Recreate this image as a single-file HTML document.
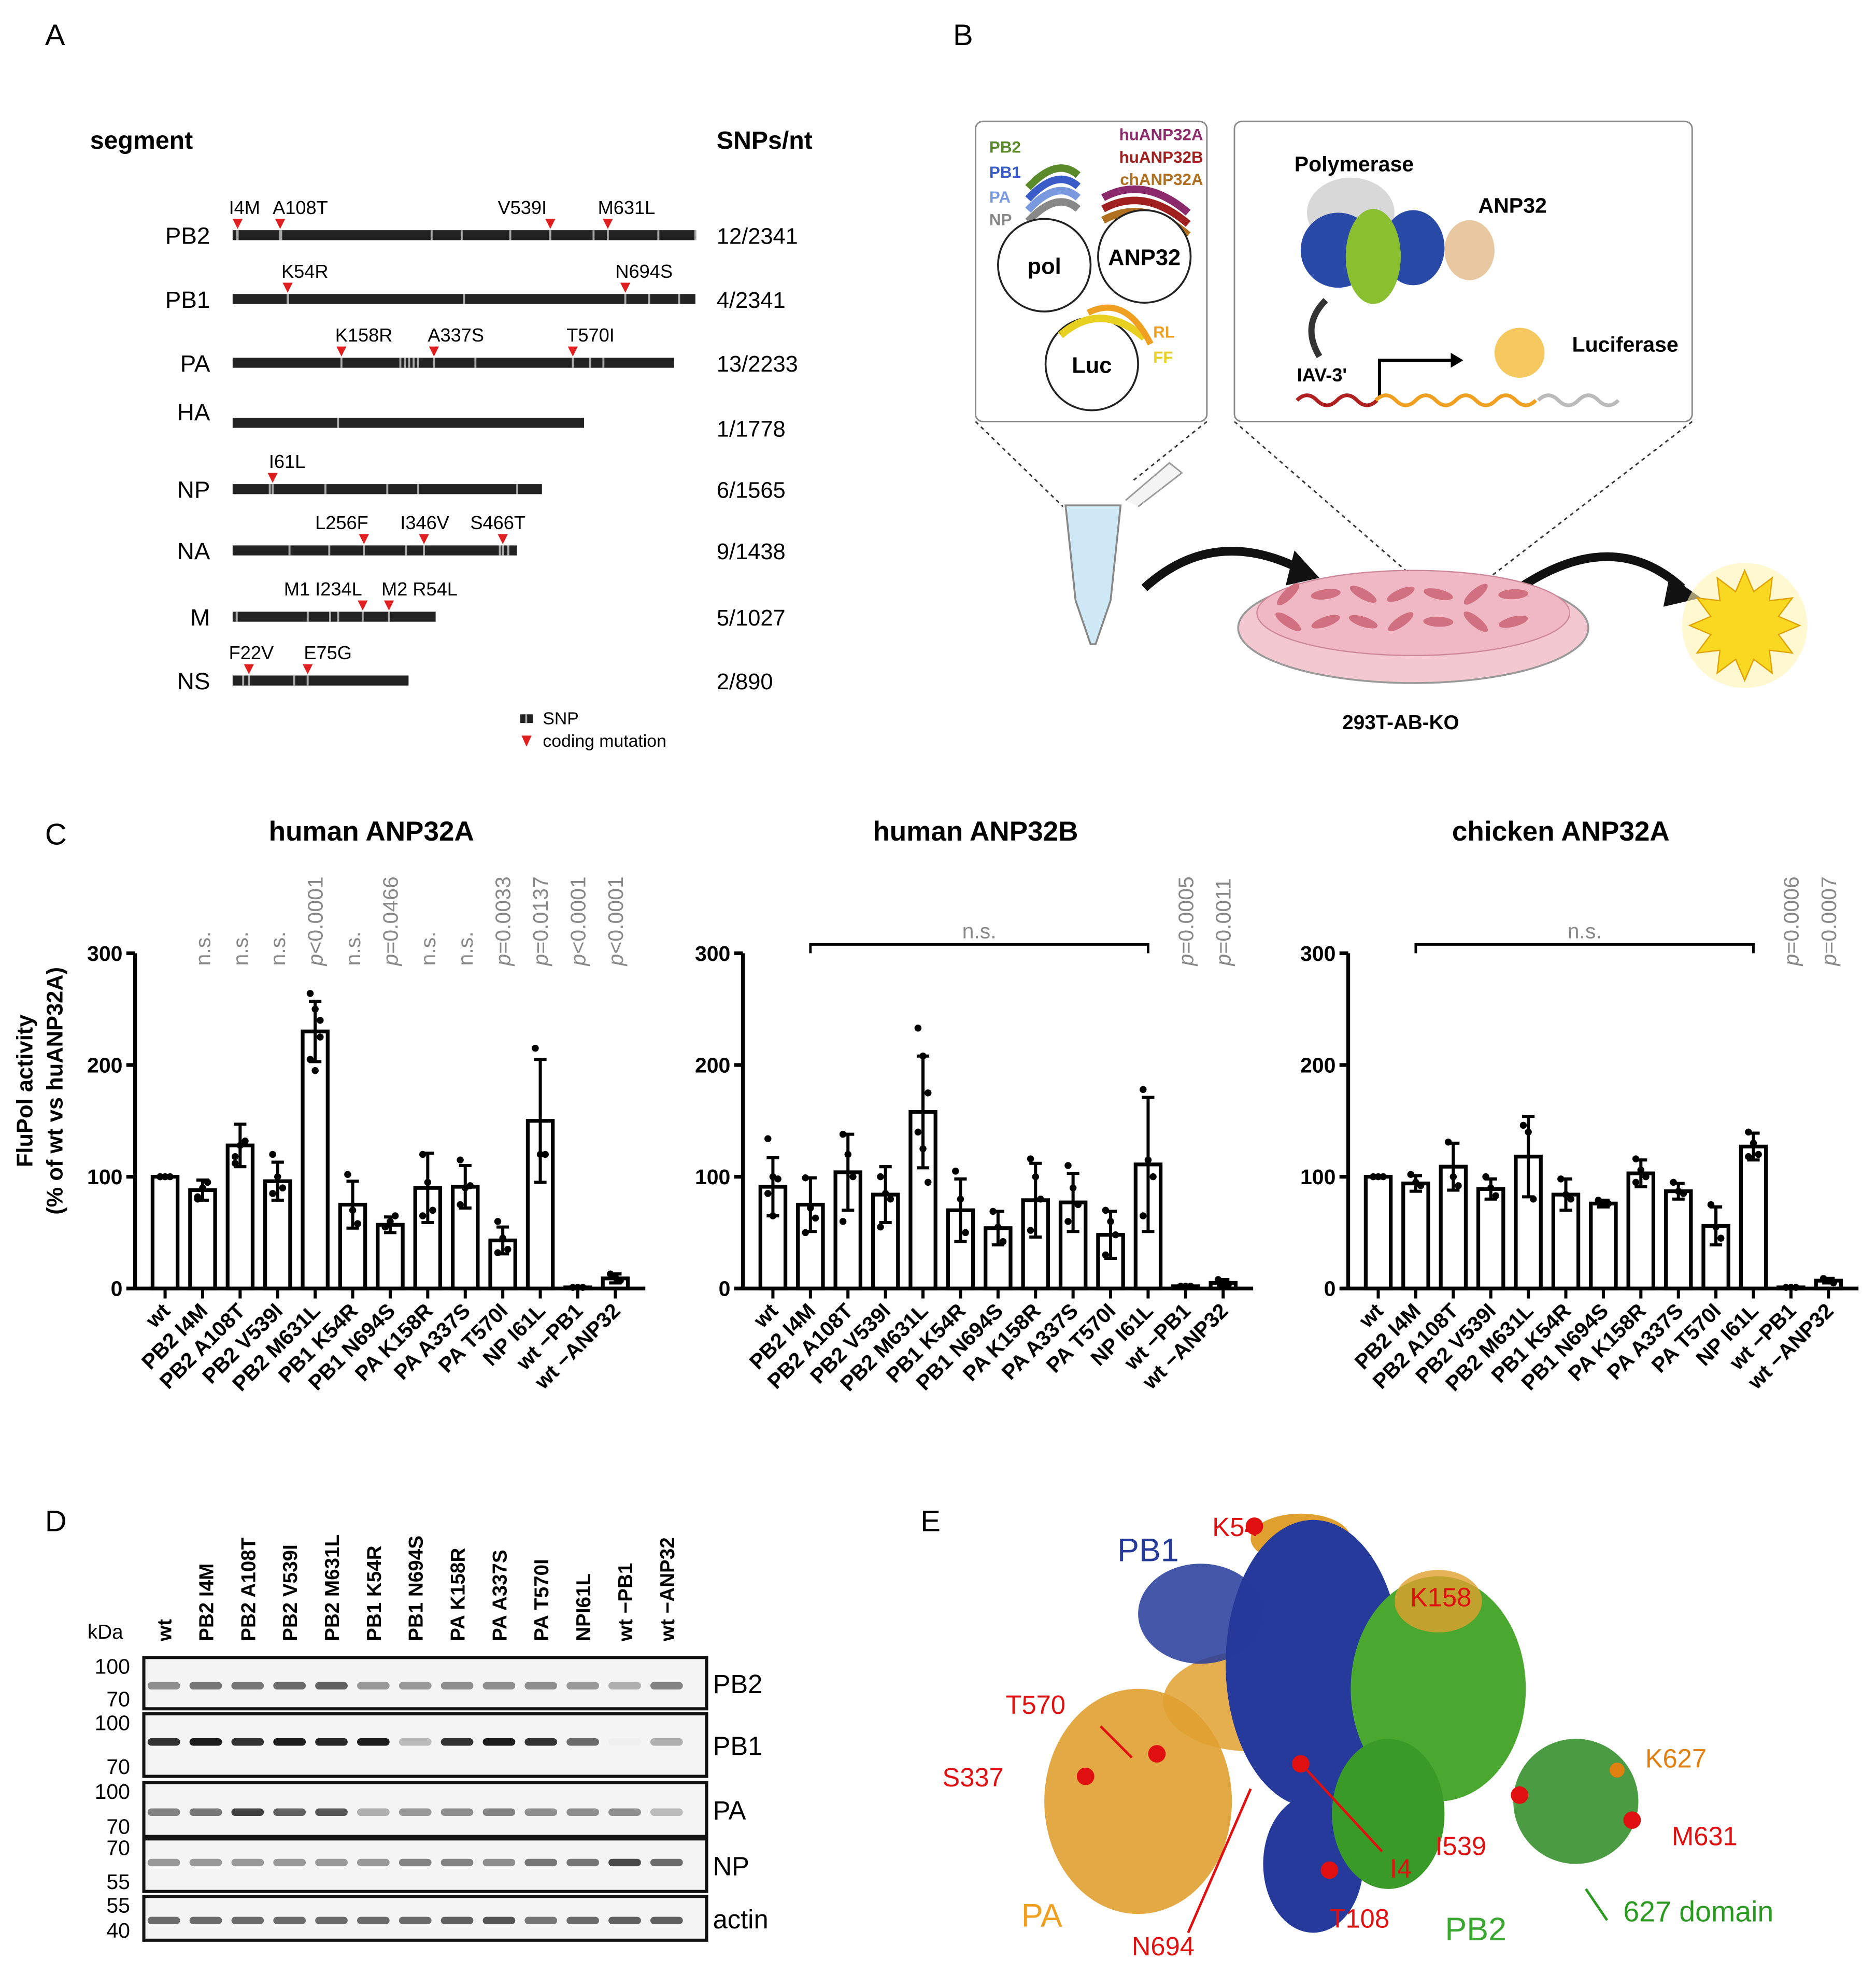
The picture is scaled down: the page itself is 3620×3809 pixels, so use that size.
<!DOCTYPE html>
<html><head><meta charset="utf-8"><style>
html,body{margin:0;padding:0;background:#fff;}
svg{display:block;}
text{font-family:"Liberation Sans",Arial,sans-serif;}
</style></head><body>
<svg id="fig" xmlns="http://www.w3.org/2000/svg" width="3620" height="3809" viewBox="0 0 1500 1578" preserveAspectRatio="none">
<rect x="0" y="0" width="1500" height="1578" fill="#fff"/>
<text x="36" y="36" font-size="24">A</text>
<text x="762" y="36" font-size="24">B</text>
<text x="36" y="675" font-size="24">C</text>
<text x="36" y="1224" font-size="24">D</text>
<text x="736" y="1224" font-size="24">E</text>

<g id="panelA">
<text x="72" y="119" font-size="20" font-weight="bold">segment</text>
<text x="573" y="119" font-size="20" font-weight="bold">SNPs/nt</text>
<rect x="416" y="571" width="10" height="7" fill="#222"/>
<rect x="420" y="571" width="1.5" height="7" fill="#aaa"/>
<text x="434" y="579" font-size="14">SNP</text>
<polygon points="417,588 425,588 421,597" fill="#e02020"/>
<text x="434" y="597" font-size="14">coding mutation</text>
</g>
<g id="panelB"></g>
<g id="panelC"></g>
<g id="panelD"></g>
<g id="panelE"></g>
</svg>
<script>
// ===== Chart data (panel C) =====
const categories = ["wt","PB2 I4M","PB2 A108T","PB2 V539I","PB2 M631L","PB1 K54R","PB1 N694S","PA K158R","PA A337S","PA T570I","NP I61L","wt \u2212PB1","wt \u2212ANP32"];
const yTicks = [0,100,200,300];
const meanA = [100,88,128,96,230,75,57,90,91,43,150,1,9];
const sdA   = [1,9,19,17,27,21,7,31,19,12,55,1,4];
const meanB = [91,75,104,84,158,70,54,79,77,48,111,2,5];
const sdB   = [26,24,34,25,50,28,15,33,26,21,60,1,3];
const meanC = [100,94,109,89,118,84,76,103,87,56,127,1,7];
const sdC   = [1,7,21,9,36,14,3,12,7,17,12,1,2];
const ptsA = [[100,100,100,100],[82,90,95,80],[112,128,132,118],[120,100,90,85],[264,250,225,205,195,240],[102,70,58],[55,60,65,55],[120,95,70,65],[115,90,92,75],[60,45,35,32],[215,120,120],[1,1,1],[13,10,7]];
const ptsB = [[134,100,98,85,65],[99,72,63,50],[138,120,100,60],[100,85,80,55],[233,208,175,140,125,95],[105,80,50],[69,55,42],[116,100,80,52],[110,90,75,60],[70,60,48,30],[178,115,100,65],[2,2,2],[8,5,3]];
const ptsC = [[100,100,100],[102,95,92],[131,100,92],[100,90,83],[146,140,80],[98,84,80],[79,77,76],[116,106,100,95],[95,87,85],[75,55,45],[140,130,120,118],[1,1,1],[9,7,5]];
const pLabelsA = ["","n.s.","n.s.","n.s.","p<0.0001","n.s.","p=0.0466","n.s.","n.s.","p=0.0033","p=0.0137","p<0.0001","p<0.0001"];
const pLabelsB = ["","","","","","","","","","","","p=0.0005","p=0.0011"];
const pLabelsC = ["","","","","","","","","","","","p=0.0006","p=0.0007"];

// ===== Panel A data =====
const segNames = ["PB2","PB1","PA","HA","NP","NA","M","NS"];
const segLengths = [2341,2341,2233,1778,1565,1438,1027,890];
const segSnpText = ["12/2341","4/2341","13/2233","1/1778","6/1565","9/1438","5/1027","2/890"];
const segMutLabels = [["I4M","A108T","V539I","M631L"],["K54R","N694S"],["K158R","A337S","T570I"],[],["I61L"],["L256F","I346V","S466T"],["M1 I234L","M2 R54L"],["F22V","E75G"]];
const segSnpPos = [[0.01,0.105,0.43,0.495,0.6,0.78,0.92,1.0],[0.12,0.5,0.9,0.965],[0.38,0.39,0.40,0.41,0.42,0.55,0.81,0.84],[0.3],[0.12,0.3,0.5,0.6,0.92],[0.2,0.34,0.61,0.94,0.97],[0.02,0.37,0.48,0.52],[0.06,0.35]];
// layout: marker x and label x (display px)
const mutX = [[190,224,440,486],[230,500],[273,347,458],[],[218],[291,339,402],[290,311],[199,246]];
const mutLabelX = [[183,218,398,478],[225,492],[268,342,453],[],[215],[252,320,376],[227,305],[183,243]];

// ===== Panel D data =====
const blotLanes = ["wt","PB2 I4M","PB2 A108T","PB2 V539I","PB2 M631L","PB1 K54R","PB1 N694S","PA K158R","PA A337S","PA T570I","NPI61L","wt \u2212PB1","wt \u2212ANP32"];
const blotRows = ["PB2","PB1","PA","NP","actin"];
const bandPB2 = [0.45,0.55,0.55,0.6,0.65,0.4,0.4,0.45,0.45,0.45,0.4,0.3,0.5];
const bandPB1 = [0.85,0.95,0.85,0.95,0.9,0.95,0.25,0.85,0.95,0.85,0.6,0.02,0.3];
const bandPA  = [0.5,0.55,0.8,0.65,0.7,0.3,0.4,0.45,0.5,0.45,0.45,0.45,0.25];
const bandNP  = [0.4,0.4,0.4,0.4,0.4,0.4,0.5,0.5,0.45,0.55,0.55,0.75,0.6];
const bandActin=[0.6,0.6,0.6,0.6,0.6,0.6,0.6,0.65,0.7,0.55,0.6,0.65,0.65];

const NS="http://www.w3.org/2000/svg";
function mk(parent,tag,attrs,txt){const e=document.createElementNS(NS,tag);for(const k in attrs)e.setAttribute(k,attrs[k]);if(txt!==undefined)e.textContent=txt;parent.appendChild(e);return e;}

// ===== Panel A drawing =====
(function(){
  const g=document.getElementById('panelA');
  const x0=186, pxPerNt=(556-186)/2341;
  const ys=[188,239,290,338,391,440,493,544];
  segNames.forEach((n,i)=>{
    const y=ys[i], w=segLengths[i]*pxPerNt;
    const lab=mk(g,'text',{x:168,y:y+(i===3?-2:7),'font-size':19,'text-anchor':'end'},n);
    
    
    const bar=mk(g,'rect',{x:x0,y:y-4,width:w,height:8,fill:'#222'});
    
    
    segSnpPos[i].forEach(f=>{const s=mk(g,'rect',{x:x0+f*w-0.8,y:y-4,width:1.6,height:8,fill:'#aaa'});
      });
    mutX[i].forEach((mx,j)=>{
      mk(g,'rect',{x:mx-0.8,y:y-4,width:1.6,height:8,fill:'#aaa'});
      const t=mk(g,'polygon',{points:`${mx-4},${y-13} ${mx+4},${y-13} ${mx},${y-5}`,fill:'#e02020'});
      
      const lt=mk(g,'text',{x:mutLabelX[i][j],y:y-17,'font-size':15},segMutLabels[i][j]);
      
    });
    const st=mk(g,'text',{x:573,y:y+(i===3?6:2)+5,'font-size':18},segSnpText[i]);
    
  });
})();

// ===== Panel C drawing =====
function drawChart(ax, title, titleX, means, sds, pts, plabels, bracket){
  const g=document.getElementById('panelC');
  const y0=1030, y300=762;
  const yS=v=>y0-(v/300)*(y0-y300);
  const xS=i=>ax+24+i*30;
  const t=mk(g,'text',{x:titleX,y:672,'font-size':22,'font-weight':'bold','text-anchor':'middle'},title);
  
  const ya=mk(g,'line',{x1:ax,y1:yS(300),x2:ax,y2:y0,stroke:'#000','stroke-width':3});
  
  const xa=mk(g,'line',{x1:ax,y1:y0,x2:ax+408,y2:y0,stroke:'#000','stroke-width':3});
  
  yTicks.forEach(v=>{
    mk(g,'line',{x1:ax-7,y1:yS(v),x2:ax,y2:yS(v),stroke:'#000','stroke-width':3});
    const tl=mk(g,'text',{x:ax-10,y:yS(v)+6,'font-size':17,'font-weight':'bold','text-anchor':'end'},String(v));
    
  });
  categories.forEach((c,i)=>{
    const cx=xS(i), m=means[i], s=sds[i];
    const bw=20;
    const b=mk(g,'rect',{x:cx-bw/2,y:yS(m),width:bw,height:y0-yS(m),fill:'#fff',stroke:'#000','stroke-width':3});
    
    const e=mk(g,'line',{x1:cx,y1:yS(m+s),x2:cx,y2:yS(Math.max(0,m-s)),stroke:'#000','stroke-width':2.5});
    
    mk(g,'line',{x1:cx-5,y1:yS(m+s),x2:cx+5,y2:yS(m+s),stroke:'#000','stroke-width':2.5});
    mk(g,'line',{x1:cx-5,y1:yS(Math.max(0,m-s)),x2:cx+5,y2:yS(Math.max(0,m-s)),stroke:'#000','stroke-width':2.5});
    pts[i].forEach((p,k)=>{const d=mk(g,'circle',{cx:cx+((k%3)-1)*4,cy:yS(p),r:2.8,fill:'#000'});
      });
    mk(g,'line',{x1:cx,y1:y0,x2:cx,y2:y0+8,stroke:'#000','stroke-width':2.5});
    const xl=mk(g,'text',{x:cx+5,y:y0+19,'font-size':17,'font-weight':'bold','text-anchor':'end',transform:`rotate(-45 ${cx+5} ${y0+19})`},c);
    
    if(plabels[i]){
      const pl=mk(g,'text',{x:cx+6,y:772,'font-size':17,fill:'#888',transform:`rotate(-90 ${cx+6} 772)`},'');
      
      if(plabels[i][0]==='p'){mk(pl,'tspan',{'font-style':'italic'},'p');mk(pl,'tspan',{},plabels[i].slice(1));}
      else pl.textContent=plabels[i];
    }
  });
  if(bracket){
    const bx1=xS(1), bx2=xS(10);
    const br=mk(g,'path',{d:`M${bx1},762 L${bx1},755 L${bx2},755 L${bx2},762`,fill:'none',stroke:'#000','stroke-width':2});
    
    const nt=mk(g,'text',{x:(bx1+bx2)/2,y:750,'font-size':17,fill:'#888','text-anchor':'middle'},'n.s.');
    
  }
}
drawChart(108,'human ANP32A',297,meanA,sdA,ptsA,pLabelsA,false);
drawChart(594,'human ANP32B',780,meanB,sdB,ptsB,pLabelsB,true);
drawChart(1078,'chicken ANP32A',1248,meanC,sdC,ptsC,pLabelsC,true);
(function(){
  const g=document.getElementById('panelC');
  const a=mk(g,'text',{x:26,y:872,'font-size':18,'font-weight':'bold','text-anchor':'middle',transform:'rotate(-90 26 872)'},'FluPol activity');
  
  const b=mk(g,'text',{x:50,y:872,'font-size':18,'font-weight':'bold','text-anchor':'middle',transform:'rotate(-90 50 872)'},'(% of wt vs huANP32A)');
  
})();

// ===== Panel B drawing =====
(function(){
  const g=document.getElementById('panelB');
  const box1=mk(g,'rect',{x:780,y:97,width:185,height:240,rx:6,fill:'#fff',stroke:'#888','stroke-width':1.2});
  
  const box2=mk(g,'rect',{x:987,y:97,width:366,height:240,rx:6,fill:'#fff',stroke:'#888','stroke-width':1.2});
  
  [['PB2',791,122,'#5a8a2a'],['PB1',791,142,'#3a5cc8'],['PA',791,162,'#7a9ae0'],['NP',791,180,'#888']].forEach(a=>{
    const t=mk(g,'text',{x:a[1],y:a[2],'font-size':13,'font-weight':'bold',fill:a[3]},a[0]);
    });
  [['huANP32A',962,112,'#8a2a6a'],['huANP32B',962,130,'#a02020'],['chANP32A',962,148,'#b07020']].forEach(a=>{
    const t=mk(g,'text',{x:a[1],y:a[2],'font-size':13,'font-weight':'bold',fill:a[3],'text-anchor':'end'},a[0]);
    });
  [['#5a8a2a',0],['#3a5cc8',9],['#7a9ae0',18],['#888',27]].forEach(a=>{
    mk(g,'path',{d:`M822,${150+a[1]} Q845,${125+a[1]} 862,${140+a[1]}`,fill:'none',stroke:a[0],'stroke-width':6});});
  [['#8a2a6a',0],['#a02020',9],['#b07020',18]].forEach(a=>{
    mk(g,'path',{d:`M882,${158+a[1]} Q915,${140+a[1]} 950,${170+a[1]}`,fill:'none',stroke:a[0],'stroke-width':6});});
  [[835,217,'pol'],[915,210,'ANP32'],[873,296,'Luc']].forEach(a=>{
    const c=mk(g,'circle',{cx:a[0],cy:a[1]-5,r:37,fill:'#fff',stroke:'#222','stroke-width':1.5});
    
    const t=mk(g,'text',{x:a[0],y:a[1]+2,'font-size':18,'font-weight':'bold','text-anchor':'middle'},a[2]);
    });
  mk(g,'path',{d:'M848,268 Q880,240 915,270',fill:'none',stroke:'#e8d020','stroke-width':6});
  mk(g,'path',{d:'M870,250 Q900,235 920,275',fill:'none',stroke:'#f0a020','stroke-width':5});
  mk(g,'text',{x:922,y:270,'font-size':13,'font-weight':'bold',fill:'#f0a020'},'RL');
  mk(g,'text',{x:922,y:290,'font-size':13,'font-weight':'bold',fill:'#e8d020'},'FF');
  const pt=mk(g,'text',{x:1035,y:137,'font-size':17,'font-weight':'bold'},'Polymerase');
  
  const at=mk(g,'text',{x:1182,y:170,'font-size':17,'font-weight':'bold'},'ANP32');
  
  mk(g,'ellipse',{cx:1080,cy:170,rx:35,ry:28,fill:'#d8d8d8'});
  mk(g,'ellipse',{cx:1070,cy:200,rx:30,ry:30,fill:'#2a4aa8'});
  mk(g,'ellipse',{cx:1130,cy:198,rx:25,ry:30,fill:'#2a4aa8'});
  mk(g,'ellipse',{cx:1098,cy:205,rx:22,ry:38,fill:'#8ac030'});
  mk(g,'ellipse',{cx:1175,cy:200,rx:20,ry:24,fill:'#e8c8a0'});
  mk(g,'path',{d:'M1060,240 Q1040,260 1055,285',fill:'none',stroke:'#333','stroke-width':5});
  const lt=mk(g,'text',{x:1257,y:281,'font-size':17,'font-weight':'bold'},'Luciferase');
  
  mk(g,'circle',{cx:1215,cy:282,r:20,fill:'#f5c860'});
  mk(g,'text',{x:1037,y:305,'font-size':15,'font-weight':'bold'},"IAV-3'");
  mk(g,'path',{d:'M1103,318 L1103,288 L1160,288',fill:'none',stroke:'#000','stroke-width':2.5});
  mk(g,'polygon',{points:'1160,282 1170,288 1160,294',fill:'#000'});
  mk(g,'path',{d:'M1037,320 q8,-8 16,0 t16,0 t16,0 t16,0',fill:'none',stroke:'#b02020','stroke-width':3});
  mk(g,'path',{d:'M1100,320 q8,-8 16,0 t16,0 t16,0 t16,0 t16,0 t16,0 t16,0 t16,0',fill:'none',stroke:'#f0a020','stroke-width':3});
  mk(g,'path',{d:'M1230,320 q8,-8 16,0 t16,0 t16,0 t16,0',fill:'none',stroke:'#bbb','stroke-width':3});
  mk(g,'path',{d:'M780,337 L850,405 M965,337 L905,385 M987,337 L1140,470 M1353,337 L1180,470',fill:'none',stroke:'#333','stroke-width':1.2,'stroke-dasharray':'3,3'});
  const tube=mk(g,'path',{d:'M852,404 L896,404 L888,480 L876,515 L872,515 L860,480 Z',fill:'#cfe8f5',stroke:'#888','stroke-width':1.5});
  
  mk(g,'path',{d:'M900,400 L935,370 L945,378 L910,405',fill:'#f4f4f4',stroke:'#999','stroke-width':1.2});
  mk(g,'path',{d:'M915,470 Q970,420 1040,455',fill:'none',stroke:'#111','stroke-width':7});
  mk(g,'polygon',{points:'1035,440 1055,462 1028,468',fill:'#111'});
  mk(g,'path',{d:'M1215,470 Q1290,420 1345,470',fill:'none',stroke:'#111','stroke-width':7});
  mk(g,'polygon',{points:'1335,460 1360,478 1330,485',fill:'#111'});
  const dish=mk(g,'ellipse',{cx:1130,cy:502,rx:140,ry:44,fill:'#f4c8d0',stroke:'#999','stroke-width':1.5});
  
  mk(g,'ellipse',{cx:1130,cy:490,rx:125,ry:34,fill:'#f0b8c4',stroke:'#c89','stroke-width':1});
  for(let i=0;i<14;i++){mk(g,'ellipse',{cx:1030+(i%7)*30,cy:475+Math.floor(i/7)*22,rx:12,ry:4,fill:'#d07080',transform:`rotate(${(i*37)%90-45} ${1030+(i%7)*30} ${475+Math.floor(i/7)*22})`});}
  const dl=mk(g,'text',{x:1120,y:583,'font-size':16,'font-weight':'bold','text-anchor':'middle'},'293T-AB-KO');
  
  let sp='';for(let i=0;i<24;i++){const r=i%2?28:44;const a=i*Math.PI/12;sp+=`${1395+r*Math.cos(a)},${500+r*Math.sin(a)} `;}
  mk(g,'circle',{cx:1395,cy:500,r:50,fill:'#fff4b0',opacity:0.6});
  const star=mk(g,'polygon',{points:sp,fill:'#f8d820',stroke:'#e0a000','stroke-width':1});
  
})();

// ===== Panel D drawing =====
(function(){
  const g=document.getElementById('panelD');
  const lx=i=>131+i*33.5;
  blotLanes.forEach((l,i)=>{
    const t=mk(g,'text',{x:lx(i)+6,y:1312,'font-size':16,'font-weight':'bold',transform:`rotate(-90 ${lx(i)+6} 1312)`},l);
    
  });
  mk(g,'text',{x:70,y:1310,'font-size':16},'kDa');
  const rows=[[1325,1366,bandPB2,0.55,['100','70']],[1370,1420,bandPB1,0.45,['100','70']],[1425,1468,bandPA,0.55,['100','70']],[1470,1512,bandNP,0.45,['70','55']],[1516,1551,bandActin,0.55,['55','40']]];
  rows.forEach((r,ri)=>{
    const [yt,yb,vals,fr,mw]=r;
    const box=mk(g,'rect',{x:115,y:yt,width:450,height:yb-yt,fill:'#f4f4f4',stroke:'#111','stroke-width':2.5});
    
    const by=yt+(yb-yt)*fr;
    vals.forEach((v,i)=>{const b=mk(g,'rect',{x:lx(i)-13,y:by-3,width:26,height:6,rx:3,fill:'#111',opacity:v});
      });
    const rl=mk(g,'text',{x:570,y:(yt+yb)/2+8,'font-size':21},blotRows[ri]);
    
    mk(g,'text',{x:104,y:yt+13,'font-size':17,'text-anchor':'end'},mw[0]);
    mk(g,'text',{x:104,y:yb-2,'font-size':17,'text-anchor':'end'},mw[1]);
  });
})();

// ===== Panel E drawing =====
(function(){
  const g=document.getElementById('panelE');
  mk(g,'ellipse',{cx:910,cy:1440,rx:75,ry:90,fill:'#e0a030',opacity:0.9});
  mk(g,'ellipse',{cx:1000,cy:1360,rx:70,ry:40,fill:'#e0a030',opacity:0.85});
  mk(g,'ellipse',{cx:1040,cy:1230,rx:40,ry:20,fill:'#e0a030'});
  mk(g,'ellipse',{cx:1050,cy:1330,rx:70,ry:115,fill:'#253a9a'});
  mk(g,'ellipse',{cx:960,cy:1290,rx:50,ry:40,fill:'#253a9a',opacity:0.85});
  mk(g,'ellipse',{cx:1050,cy:1490,rx:40,ry:55,fill:'#253a9a'});
  mk(g,'ellipse',{cx:1150,cy:1350,rx:70,ry:90,fill:'#4aa830'});
  mk(g,'ellipse',{cx:1110,cy:1450,rx:45,ry:60,fill:'#3a9a28'});
  mk(g,'ellipse',{cx:1150,cy:1280,rx:35,ry:25,fill:'#e0a030',opacity:0.8});
  mk(g,'ellipse',{cx:1260,cy:1440,rx:50,ry:50,fill:'#2a8a20',opacity:0.85});
  [[1003,1220],[925,1402],[868,1420],[1040,1410],[1063,1495],[1215,1435],[1305,1455]].forEach(p=>{const c=mk(g,'circle',{cx:p[0],cy:p[1],r:7,fill:'#e01010'});
    });
  mk(g,'circle',{cx:1293,cy:1415,r:6,fill:'#e08010'});
  mk(g,'path',{d:'M880,1380 L905,1405 M1000,1430 L950,1545 M1045,1415 L1105,1480',stroke:'#e01010','stroke-width':2,fill:'none'});
  mk(g,'path',{d:'M1268,1510 L1285,1535',stroke:'#2a9a20','stroke-width':2,fill:'none'});
  const labels=[['PB1',918,1240,'#253a9a',26],['K54',988,1220,'#e01010',21],['K158',1152,1276,'#e01010',21],['T570',828,1362,'#e01010',21],['S337',778,1420,'#e01010',21],['K627',1340,1405,'#e08010',21],['I539',1168,1475,'#e01010',21],['M631',1363,1467,'#e01010',21],['I4',1120,1493,'#e01010',21],['T108',1087,1533,'#e01010',21],['N694',930,1555,'#e01010',21],['PA',833,1532,'#f0a020',26],['PB2',1180,1543,'#3aa830',26],['627 domain',1358,1528,'#2a9a20',23]];
  labels.forEach(l=>{const t=mk(g,'text',{x:l[1],y:l[2]+8,'font-size':l[4],fill:l[3],'text-anchor':'middle'},l[0]);
    });
})();
</script>
</body></html>
